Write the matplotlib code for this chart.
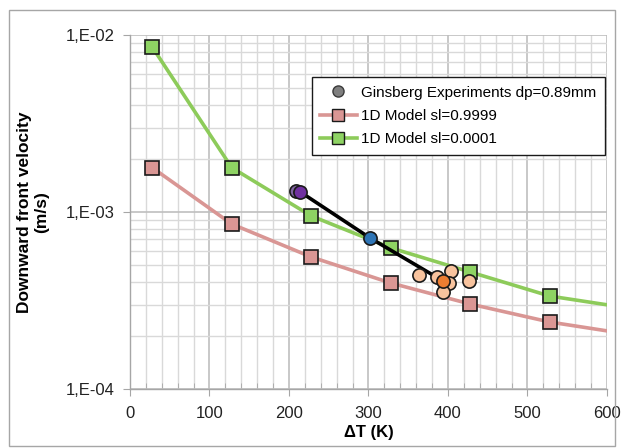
import matplotlib
matplotlib.use("Agg")
import matplotlib.pyplot as plt
from matplotlib.ticker import FixedLocator, FixedFormatter, MultipleLocator, LogLocator, NullFormatter
from matplotlib.lines import Line2D

plt.rcParams['font.family'] = ['Liberation Sans', 'DejaVu Sans']

# Model data
model_dT = [28, 128, 228, 328, 428, 528, 600]
model_sl9999 = [1.78e-3, 8.55e-4, 5.57e-4, 3.97e-4, 3.02e-4, 2.39e-4, 2.13e-4]
model_sl0001 = [8.55e-3, 1.78e-3, 9.5e-4, 6.27e-4, 4.58e-4, 3.35e-4, 2.99e-4]
n_markers = 6

# Experiments
exp_gray_dT = [209]
exp_gray_v = [1.31e-3]
exp_purple_dT = [214]
exp_purple_v = [1.30e-3]
exp_blue_dT = [302]
exp_blue_v = [7.13e-4]
exp_peach_dT = [364, 386, 404, 401, 394, 426]
exp_peach_v = [4.41e-4, 4.30e-4, 4.64e-4, 3.97e-4, 3.53e-4, 4.07e-4]
exp_orange_dT = [394]
exp_orange_v = [4.07e-4]
exp_line_dT = [214, 302, 394]
exp_line_v = [1.30e-3, 7.13e-4, 4.07e-4]

ytick_vals = [1e-4, 1e-3, 1e-2]
ytick_labels = ['1,E-04', '1,E-03', '1,E-02']
xtick_vals = [0, 100, 200, 300, 400, 500, 600]

fig = plt.figure(figsize=(6.24, 4.48), dpi=100)
# outer chart border
fig.patches.append(plt.Rectangle((0.014, 0.005), 0.972, 0.972, transform=fig.transFigure,
                                 fill=False, edgecolor='#A6A6A6', linewidth=1.0))
ax = fig.add_axes([0.2083, 0.1317, 0.7644, 0.7902])

ax.set_yscale('log')
ax.set_xlim(0, 600)
ax.set_ylim(1e-4, 1e-2)

green_line = '#8DCB5A'
green_fill = '#8ED363'
pink_line = '#D99694'
pink_fill = '#DA9694'

ax.plot(model_dT, model_sl9999, color=pink_line, lw=2.6, zorder=3)
ax.plot(model_dT, model_sl0001, color=green_line, lw=2.6, zorder=3)
ax.plot(model_dT[:n_markers], model_sl9999[:n_markers], ls='none', marker='s', ms=9.5,
        mfc=pink_fill, mec='#1a1a1a', mew=1.2, zorder=4)
ax.plot(model_dT[:n_markers], model_sl0001[:n_markers], ls='none', marker='s', ms=9.5,
        mfc=green_fill, mec='#1a1a1a', mew=1.2, zorder=4)

ax.plot(exp_line_dT, exp_line_v, color='black', lw=2.6, zorder=5)
kw = dict(ls='none', marker='o', ms=9.5, mec='#1a1a1a', mew=1.2, zorder=6)
ax.plot(exp_gray_dT, exp_gray_v, mfc='#8064A2', **kw)
ax.plot(exp_purple_dT, exp_purple_v, mfc='#7030A0', **kw)
ax.plot(exp_blue_dT, exp_blue_v, mfc='#2E75B6', **kw)
ax.plot(exp_peach_dT, exp_peach_v, mfc='#F8C39E', **kw)
ax.plot(exp_orange_dT, exp_orange_v, mfc='#ED7D31', **kw)

# ticks and grid
ax.yaxis.set_major_locator(FixedLocator(ytick_vals))
ax.yaxis.set_major_formatter(FixedFormatter(ytick_labels))
ax.yaxis.set_minor_locator(LogLocator(base=10, subs=range(2, 10)))
ax.yaxis.set_minor_formatter(NullFormatter())
ax.xaxis.set_major_locator(FixedLocator(xtick_vals))
ax.xaxis.set_minor_locator(MultipleLocator(20))

ax.grid(which='major', color='#BFBFBF', lw=1.2, zorder=0)
ax.grid(which='minor', color='#D9D9D9', lw=1.0, zorder=0)
ax.set_axisbelow(True)

for s in ['top', 'right']:
    ax.spines[s].set_visible(False)
for s in ['left', 'bottom']:
    ax.spines[s].set_color('#A6A6A6')
    ax.spines[s].set_linewidth(1.0)

ax.tick_params(axis='both', which='major', direction='out', length=5, color='#A6A6A6',
               labelsize=12, labelcolor='#222222')
ax.tick_params(axis='y', which='minor', length=0)
ax.tick_params(axis='x', which='minor', direction='in', length=4, color='#A6A6A6')
ax.tick_params(axis='x', which='major', pad=7)
ax.tick_params(axis='y', which='major', pad=6)

ax.set_xlabel('ΔT (K)', fontsize=12, fontweight='bold', labelpad=3)
ax.set_ylabel('Downward front velocity\n(m/s)', fontsize=12.5, fontweight='bold', labelpad=12)

handles = [
    Line2D([], [], ls='none', marker='o', ms=8, mfc='#7F7F7F', mec='#3a3a3a', mew=1.0),
    Line2D([], [], color=pink_line, lw=2.6, marker='s', ms=8, mfc=pink_fill, mec='#1a1a1a', mew=1.0),
    Line2D([], [], color=green_line, lw=2.6, marker='s', ms=8, mfc=green_fill, mec='#1a1a1a', mew=1.0),
]
labels = ['Ginsberg Experiments dp=0.89mm', '1D Model sl=0.9999', '1D Model sl=0.0001']
leg = ax.legend(handles, labels, loc='upper left', bbox_to_anchor=(0.381, 0.881),
                fontsize=11, frameon=True, fancybox=False, borderpad=0.55,
                handlelength=2.4, handletextpad=0.3, labelspacing=0.62, borderaxespad=0)
leg.get_frame().set_edgecolor('#1a1a1a')
leg.get_frame().set_linewidth(1.0)
leg.get_frame().set_alpha(1)
leg.set_zorder(10)

fig.savefig('out.png', dpi=100)
